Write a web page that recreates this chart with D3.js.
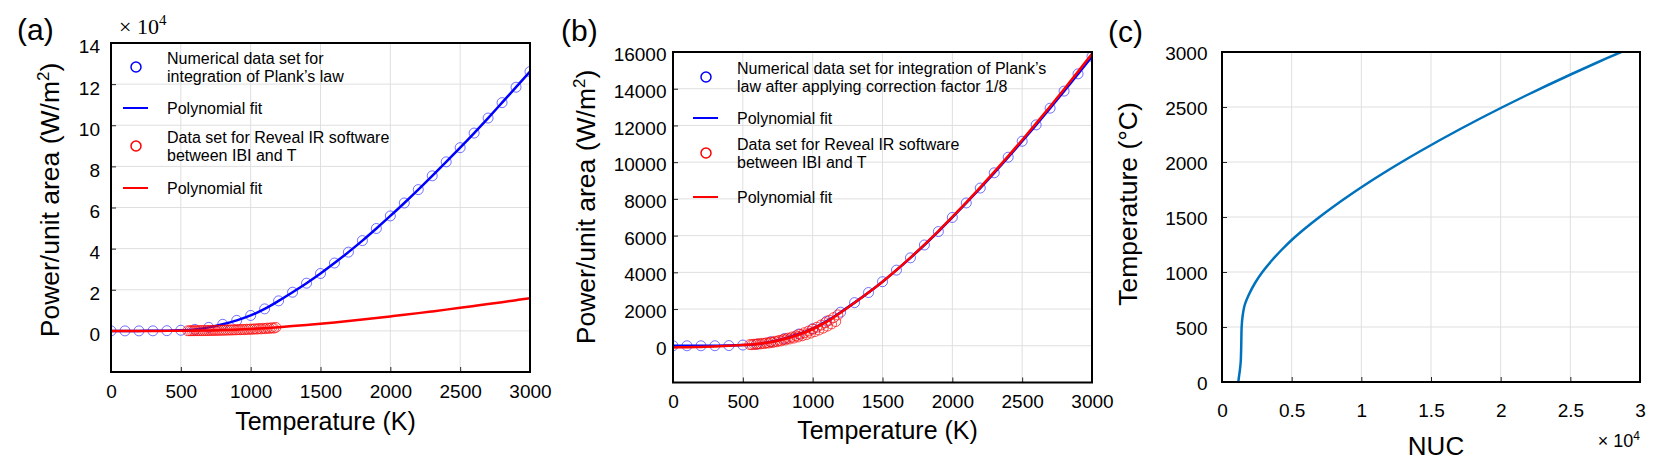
<!DOCTYPE html>
<html lang="en">
<head>
<meta charset="UTF-8">
<title>Planck integration / NUC</title>
<script src="https://cdnjs.cloudflare.com/ajax/libs/d3/7.8.5/d3.min.js"></script>
<style>
  body { margin: 0; background: #fff; }
  text { font-family: "Liberation Sans", Arial, Helvetica, sans-serif; fill: #000; }
  .grid line { stroke: #dfdfdf; stroke-width: 1; }
  .frame { fill: none; stroke: #000; stroke-width: 2; }
  .tick line { stroke: #262626; stroke-width: 1; }
</style>
</head>
<body>
<svg id="fig" width="1661" height="461"></svg>
<script>
// temperatures (K) of the numerical Planck data set
const tempK = [0, 100, 200, 300, 400, 500, 600, 700, 800, 900, 1000, 1100, 1200, 1300, 1400, 1500,
               1600, 1700, 1800, 1900, 2000, 2100, 2200, 2300, 2400, 2500, 2600, 2700, 2800, 2900, 3000];

// (a) numerical integration of Plank's law, W/m^2
const planckRaw = [0, 0, 0, 20, 100, 300, 700, 1700, 3200, 5100, 7500, 10700, 14600, 18800, 23200, 27900,
                   33000, 38300, 43900, 49800, 55900, 62200, 68700, 75400, 82200, 89100, 96200, 103500, 111000, 118500, 126100];

// (b) same set after correction factor 1/8, W/m^2
const planckCorr = [0, 0, 0, 3, 12, 40, 90, 220, 400, 640, 930, 1340, 1830, 2350, 2900, 3490,
                    4120, 4790, 5490, 6220, 6990, 7780, 8590, 9420, 10270, 11140, 12030, 12940, 13870, 14810, 15760];

// Reveal IR software data, IBI vs T
const revealT = [550, 565, 580, 595, 610, 625, 640, 655, 670, 685, 700, 715, 730, 745, 760, 775, 790, 805, 820, 835, 850,
                 865, 880, 895, 910, 925, 940, 955, 970, 985, 1000, 1015, 1030, 1045, 1060, 1075, 1090, 1105, 1120, 1135,
                 1150, 1165, 1180];
const revealP = [65, 60, 85, 75, 110, 100, 135, 120, 165, 150, 200, 180, 245, 220, 295, 265, 350, 315, 410, 370, 475,
                 420, 545, 480, 625, 545, 710, 610, 800, 690, 900, 770, 1010, 860, 1130, 960, 1255, 1070, 1390, 1190,
                 1530, 1320, 1680];

// polynomial fit of the Reveal IR data (same T grid as tempK)
const revealFit = [-90, -80, -60, -35, 0, 40, 100, 200, 370, 600, 900, 1300, 1800, 2340, 2900, 3490,
                   4130, 4800, 5510, 6250, 7020, 7810, 8630, 9470, 10330, 11210, 12110, 13030, 13970, 14930, 15900];

// (c) temperature (deg C) vs NUC
const nucTempC = [0, 50, 100, 150, 200, 300, 400, 500, 600, 700, 800, 900, 1000, 1100, 1200, 1300, 1400, 1500,
                  1600, 1700, 1800, 1900, 2000, 2100, 2200, 2300, 2400, 2500, 2600, 2700, 2800, 2900, 3000];
const nucValue = [1170, 1220, 1275, 1320, 1350, 1375, 1390, 1410, 1480, 1630, 1950, 2370, 2900, 3540, 4270, 5080, 6000, 7000,
                  8060, 9180, 10360, 11600, 12900, 14250, 15650, 17100, 18600, 20150, 21750, 23400, 25100, 26850, 28650];

const xTicksK = [0, 500, 1000, 1500, 2000, 2500, 3000];

const svg = d3.select("#fig");
svg.append("rect").attr("width", 1661).attr("height", 461).attr("fill", "#fff");

let clipId = 0;

function makePanel(o) {
    const x = d3.scaleLinear().domain(o.xDomain).range([o.left, o.left + o.width]);
    const y = d3.scaleLinear().domain(o.yDomain).range([o.top + o.height, o.top]);
    const g = svg.append("g");

    const grid = g.append("g").attr("class", "grid");
    grid.selectAll(".gx").data(o.xTicks).enter().append("line")
        .attr("x1", d => x(d)).attr("x2", d => x(d))
        .attr("y1", o.top).attr("y2", o.top + o.height);
    grid.selectAll(".gy").data(o.yGrid).enter().append("line")
        .attr("x1", o.left).attr("x2", o.left + o.width)
        .attr("y1", d => y(d)).attr("y2", d => y(d));

    const xAxis = g.append("g")
        .attr("transform", `translate(0,${o.top + o.height})`)
        .call(d3.axisBottom(x).tickValues(o.xTicks).tickFormat(o.xFormat)
              .tickSizeInner(-5).tickSizeOuter(0).tickPadding(o.xPad));
    const yAxis = g.append("g")
        .attr("transform", `translate(${o.left},0)`)
        .call(d3.axisLeft(y).tickValues(o.yTicks).tickFormat(o.yFormat)
              .tickSizeInner(-5).tickSizeOuter(0).tickPadding(o.yPad));
    [xAxis, yAxis].forEach(a => {
        a.select(".domain").remove();
        a.attr("font-family", null).attr("font-size", null);
        a.selectAll("text").style("font-size", "19px").attr("fill", "#000");
    });
    xAxis.selectAll("text").attr("dy", "0.71em");
    yAxis.selectAll("text").attr("dy", o.yDy);

    clipId++;
    svg.append("clipPath").attr("id", "clip" + clipId)
        .append("rect").attr("x", o.left).attr("y", o.top).attr("width", o.width).attr("height", o.height);
    const plot = g.append("g").attr("clip-path", `url(#clip${clipId})`);

    g.append("rect").attr("class", "frame")
        .attr("x", o.left).attr("y", o.top).attr("width", o.width).attr("height", o.height);

    // axis titles
    g.append("text")
        .attr("x", o.left + o.width / 2 + 5).attr("y", o.xTitleY)
        .attr("text-anchor", "middle").style("font-size", o.xTitleSize || "25px")
        .text(o.xTitle);
    const yt = g.append("text")
        .attr("transform", `translate(${o.yTitleX},${o.yTitleY}) rotate(-90)`)
        .attr("text-anchor", "middle").style("font-size", "26.5px");
    o.yTitle(yt);

    g.append("text").attr("x", o.tag[0]).attr("y", o.tag[1]).style("font-size", "30px").text(o.tagText);

    return { x, y, plot, g };
}

function powerTitle(t) {
    t.append("tspan").text("Power/unit area (W/m");
    t.append("tspan").attr("dy", -10).style("font-size", "17px").text("2");
    t.append("tspan").attr("dy", 10).text(")");
}

function lineOf(xs, ys, sx, sy) {
    return d3.line().curve(d3.curveMonotoneX)
        .x(d => sx(xs[d])).y(d => sy(ys[d]))(d3.range(xs.length));
}

function drawPlanckPanel(p, blue, legendLines) {
    const idx = d3.range(tempK.length);
    p.plot.selectAll(".bc").data(idx).enter().append("circle")
        .attr("cx", i => p.x(tempK[i])).attr("cy", i => p.y(blue[i])).attr("r", 5)
        .attr("fill", "none").attr("stroke", "#0000ff").attr("stroke-opacity", 0.55).attr("stroke-width", 1);
    p.plot.append("path").attr("d", lineOf(tempK, blue, p.x, p.y))
        .attr("fill", "none").attr("stroke", "#0000ff").attr("stroke-width", 2.5);
    const ridx = d3.range(revealT.length);
    p.plot.selectAll(".rc").data(ridx).enter().append("circle")
        .attr("cx", i => p.x(revealT[i])).attr("cy", i => p.y(revealP[i])).attr("r", 5)
        .attr("fill", "none").attr("stroke", "#ff0000").attr("stroke-opacity", 0.7).attr("stroke-width", 1);
    p.plot.append("path").attr("d", lineOf(tempK, revealFit, p.x, p.y))
        .attr("fill", "none").attr("stroke", "#ff0000").attr("stroke-width", 2.5);

    // legend
    const L = legendLines;
    const lg = p.g.append("g").style("font-size", "16px");
    lg.append("circle").attr("cx", L.mx).attr("cy", L.ys[0]).attr("r", 5)
        .attr("fill", "none").attr("stroke", "#0000ff").attr("stroke-width", 1.5);
    lg.append("line").attr("x1", L.mx - 13).attr("x2", L.mx + 12).attr("y1", L.ys[1]).attr("y2", L.ys[1])
        .attr("stroke", "#0000ff").attr("stroke-width", 2);
    lg.append("circle").attr("cx", L.mx).attr("cy", L.ys[2]).attr("r", 5)
        .attr("fill", "none").attr("stroke", "#ff0000").attr("stroke-width", 1.5);
    lg.append("line").attr("x1", L.mx - 13).attr("x2", L.mx + 12).attr("y1", L.ys[3]).attr("y2", L.ys[3])
        .attr("stroke", "#ff0000").attr("stroke-width", 2);
    L.texts.forEach((rows, k) => {
        const cy = L.ys[k];
        rows.forEach((s, j) => {
            const off = rows.length === 1 ? 0 : (j === 0 ? -L.gap / 2 : L.gap / 2);
            lg.append("text").attr("x", L.tx).attr("y", cy + off + 5.5).text(s);
        });
    });
}

// ---- (a)
const pa = makePanel({
    left: 111, top: 43, width: 419, height: 329,
    xDomain: [0, 3000], yDomain: [-20000, 140000],
    xTicks: xTicksK, yTicks: [0, 20000, 40000, 60000, 80000, 100000, 120000, 140000],
    yGrid: [0, 20000, 40000, 60000, 80000, 100000, 120000],
    xFormat: d => d, yFormat: d => d / 10000,
    xPad: 12.5, yPad: 11, yDy: "0.52em",
    xTitle: "Temperature (K)", xTitleY: 430,
    yTitle: powerTitle, yTitleX: 59, yTitleY: 200,
    tag: [17, 40], tagText: "(a)"
});
drawPlanckPanel(pa, planckRaw, {
    mx: 136, tx: 167, gap: 18, ys: [67, 108, 146, 188],
    texts: [["Numerical data set for", "integration of Plank\u2019s law"], ["Polynomial fit"],
            ["Data set for Reveal IR software", "between IBI and T"], ["Polynomial fit"]]
});
const serif = "'Liberation Serif', 'DejaVu Serif', serif";
const ma = pa.g.append("text").attr("x", 119).attr("y", 34).style("font-family", serif);
ma.append("tspan").style("font-size", "22px").text("\u00d7 10");
ma.append("tspan").attr("dy", -9).style("font-size", "15px").text("4");

// ---- (b)
const pb = makePanel({
    left: 673, top: 52, width: 419, height: 330.5,
    xDomain: [0, 3000], yDomain: [-2000, 16000],
    xTicks: xTicksK, yTicks: d3.range(0, 16001, 2000),
    yGrid: d3.range(0, 16000, 2000),
    xFormat: d => d, yFormat: d => d,
    xPad: 12, yPad: 6.5, yDy: "0.45em",
    xTitle: "Temperature (K)", xTitleY: 439,
    yTitle: powerTitle, yTitleX: 595, yTitleY: 207,
    tag: [561, 41], tagText: "(b)"
});
drawPlanckPanel(pb, planckCorr, {
    mx: 706, tx: 737, gap: 18, ys: [77, 118, 153, 197],
    texts: [["Numerical data set for integration of Plank\u2019s", "law after applying correction factor 1/8"], ["Polynomial fit"],
            ["Data set for Reveal IR software", "between IBI and T"], ["Polynomial fit"]]
});

// ---- (c)
const pc = makePanel({
    left: 1222, top: 52, width: 418, height: 330,
    xDomain: [0, 30000], yDomain: [0, 3000],
    xTicks: d3.range(0, 30001, 5000), yTicks: d3.range(0, 3001, 500),
    yGrid: d3.range(500, 3000, 500),
    xFormat: d => d / 10000, yFormat: d => d,
    xPad: 21.5, yPad: 14.5, yDy: "0.4em",
    xTitle: "NUC", xTitleY: 455, xTitleSize: "26px",
    yTitle: t => t.text("Temperature (\u00b0C)"), yTitleX: 1137, yTitleY: 204,
    tag: [1108, 42], tagText: "(c)"
});
pc.plot.append("path")
    .attr("d", d3.line().curve(d3.curveCatmullRom.alpha(0.5))
        .x(i => pc.x(nucValue[i])).y(i => pc.y(nucTempC[i]))(d3.range(nucTempC.length)))
    .attr("fill", "none").attr("stroke", "#0072bd").attr("stroke-width", 2.5);
const mc = pc.g.append("text").attr("x", 1640).attr("y", 447).attr("text-anchor", "end");
mc.append("tspan").style("font-size", "18px").text("\u00d7 10");
mc.append("tspan").attr("dy", -7).style("font-size", "12px").text("4");
</script>
</body>
</html>
